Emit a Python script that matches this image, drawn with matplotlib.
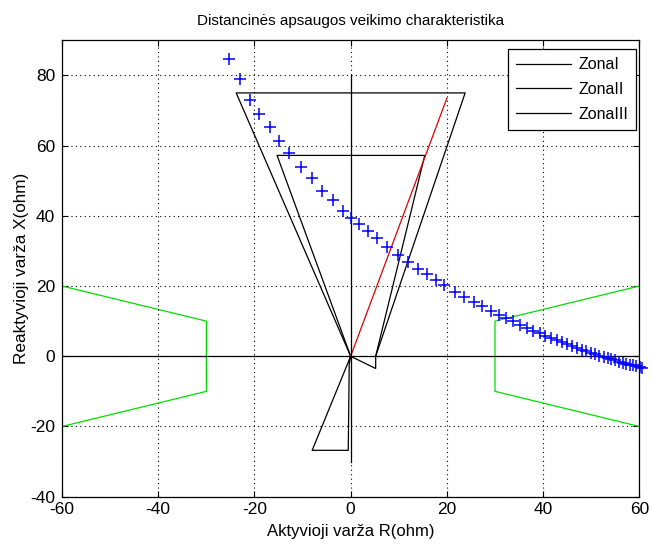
"""
Distance protection characteristic (R-X plane) with an impedance trajectory.
"""
import matplotlib
matplotlib.use('Agg')
import matplotlib.pyplot as plt

OUT = 'out.png'

# zone polygons (R, X in ohm)
zone1_r = [0, -8.0, -0.5, -0.3, 0]
zone1_x = [0, -26.8, -26.8, -2.3, 0]
zone2_r = [0, -15.3, 15.4, 5.2]
zone2_x = [0, 57.2, 57.2, 0]
zone3_r = [0, -23.8, 23.8, 5.2, 5.2, 0]
zone3_x = [0, 75, 75, 0, -3.5, 0]

# line impedance
line_r = [0, 20]
line_x = [0, 73.5]

# load blinders
load_left_r = [-60, -30, -30, -60]
load_left_x = [20, 10, -10, -20]
load_right_r = [60, 30, 30, 60]
load_right_x = [20, 10, -10, -20]

# axis lines
vert_r = [0, 0]
vert_x = [80, -30]
horiz_r = [-60, 60]
horiz_x = [0, 0]

# measured impedance trajectory
traj_r = [-25.3, -23.1, -20.9, -19.0, -16.8, -14.8, -12.9, -10.4, -8.1, -5.9,
          -3.7, -1.6, 0.1, 1.8, 3.7, 5.4, 7.6, 9.9, 12.0, 13.9,
          15.9, 17.8, 19.5, 21.6, 23.6, 25.6, 27.4, 29.1, 30.9, 32.2,
          33.8, 35.3, 36.7, 38.0, 39.3, 40.5, 41.7, 42.8, 43.9, 45.0,
          46.0, 47.0, 48.0, 49.0, 49.9, 50.8, 51.7, 52.6, 53.4, 54.2,
          55.0, 55.8, 56.6, 57.3, 58.0, 58.7, 59.4, 60.1, 60.6]
traj_x = [84.8, 79.0, 73.1, 69.1, 65.2, 61.4, 57.9, 53.9, 50.8, 47.2,
          44.4, 41.5, 39.5, 37.7, 35.6, 33.7, 31.1, 28.9, 26.7, 24.9,
          23.4, 21.8, 20.2, 18.3, 16.9, 15.4, 14.4, 13.0, 11.8, 10.9,
          9.9, 9.0, 8.0, 7.2, 6.5, 5.8, 5.2, 4.6, 4.0, 3.4,
          2.9, 2.4, 1.9, 1.4, 1.0, 0.6, 0.2, -0.2, -0.5, -0.9,
          -1.2, -1.5, -1.8, -2.1, -2.4, -2.6, -2.9, -3.1, -3.3]

zone_labels = ['ZonaI', 'ZonaII', 'ZonaIII']

plt.rcParams['font.family'] = ['Liberation Sans Narrow', 'Liberation Sans',
                               'DejaVu Sans']
plt.rcParams['axes.unicode_minus'] = False

fig = plt.figure(figsize=(6.53, 5.44), dpi=100)
ax = fig.add_axes([0.095, 0.087, 0.884, 0.839])

lw = 0.9
ax.plot(zone1_r, zone1_x, color='k', lw=lw, label=zone_labels[0])
ax.plot(zone2_r, zone2_x, color='k', lw=lw, label=zone_labels[1])
ax.plot(zone3_r, zone3_x, color='k', lw=lw, label=zone_labels[2])
ax.plot(line_r, line_x, color='#dd0000', lw=lw)
ax.plot(load_left_r, load_left_x, color='#00dd00', lw=lw)
ax.plot(load_right_r, load_right_x, color='#00dd00', lw=lw)
ax.plot(vert_r, vert_x, color='k', lw=lw)
ax.plot(horiz_r, horiz_x, color='k', lw=lw)
ax.plot(traj_r, traj_x, linestyle='none', marker='+', color='#0000ff',
        markersize=9, markeredgewidth=1.1, clip_on=False)

ax.set_xlim(-60, 60)
ax.set_ylim(-40, 90)
ax.set_xticks(range(-60, 61, 20))
ax.set_yticks(range(-40, 81, 20))
ax.tick_params(direction='in', top=True, right=True, length=4, width=0.8,
               labelsize=12.5)
ax.tick_params(axis='x', pad=4)
ax.tick_params(axis='y', pad=5)
ax.grid(True, color='k', linestyle=(0, (1, 3)), linewidth=0.8)
for sp in ax.spines.values():
    sp.set_linewidth(0.9)

ax.set_title('Distancinės apsaugos veikimo charakteristika', pad=11,
             fontsize=11)
ax.set_xlabel('Aktyvioji varža R(ohm)', labelpad=5, fontsize=12)
ax.set_ylabel('Reaktyvioji varža X(ohm)', labelpad=1, fontsize=12.3)

leg = ax.legend(loc='upper right', bbox_to_anchor=(0.995, 0.98),
                borderaxespad=0, fancybox=False, framealpha=1,
                edgecolor='k', handlelength=3.4, borderpad=0.5,
                labelspacing=0.6, handletextpad=0.5, fontsize=11.5)
leg.get_frame().set_linewidth(0.9)

fig.savefig(OUT, dpi=100)
